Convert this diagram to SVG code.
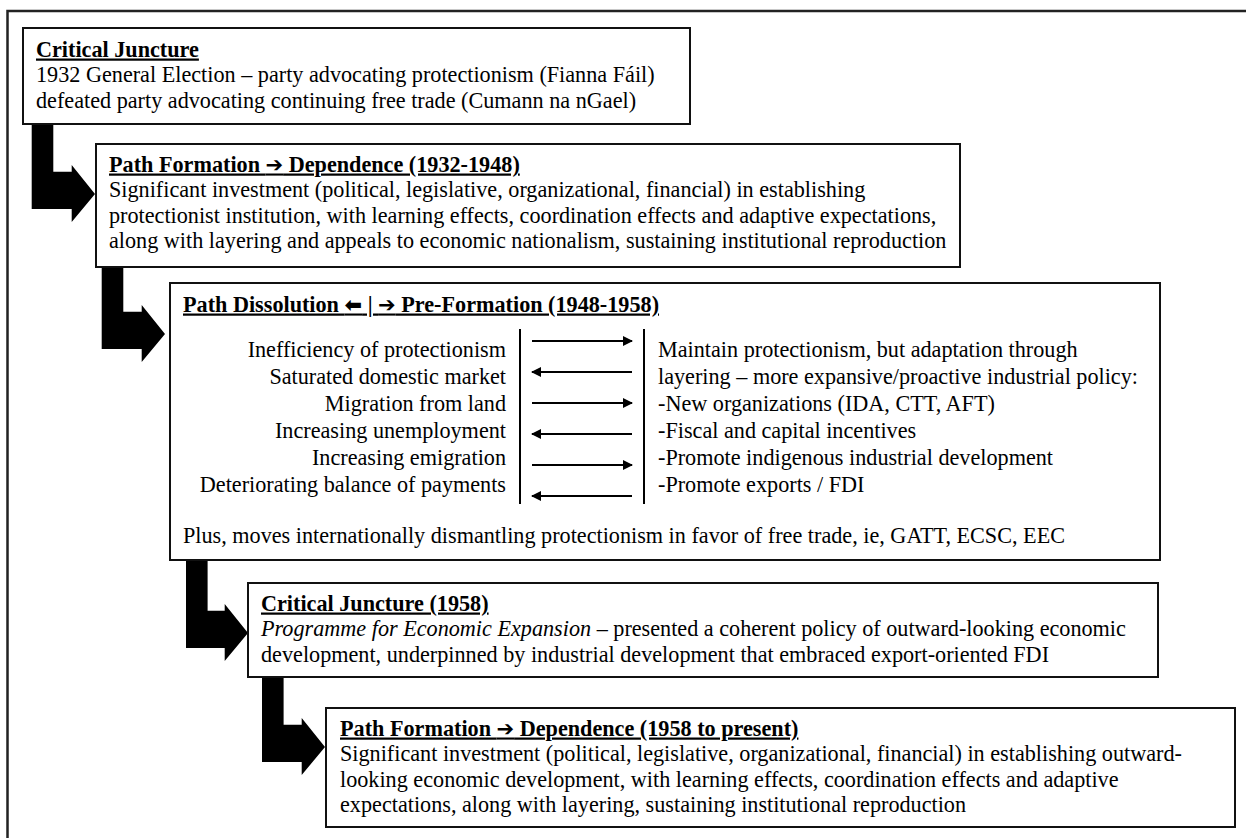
<svg xmlns="http://www.w3.org/2000/svg" width="1246" height="838" viewBox="0 0 1246 838">
<style>
.box{fill:#fff;stroke:#111;stroke-width:2}
.t{font-family:"Liberation Serif","Times New Roman",serif;font-size:22.2px;fill:#000}
.b{font-weight:bold;text-decoration:underline}
.sym{font-family:"DejaVu Sans",sans-serif;font-size:21px;font-weight:bold}
.r{text-anchor:end}
.ln{stroke:#000;stroke-width:2;fill:none}
.bent{fill:#000}
</style>
<defs>
<marker id="ah" viewBox="0 0 10 10" refX="9" refY="5" markerWidth="5" markerHeight="5" orient="auto-start-reverse" markerUnits="strokeWidth">
<path d="M0,0 L10,5 L0,10 Z" fill="#000"/>
</marker>
</defs>
<rect width="1246" height="838" fill="#fff"/>
<path d="M7.5,838 V11 H1246" fill="none" stroke="#222" stroke-width="2.5"/>

<g id="connectors">
<path class="bent" d="M31.7,124 H53.3 V171.7 H71.7 V165 L95,194 L71.7,222 V209 H31.7 Z"/>
<path class="bent" d="M101.7,267 H123.3 V311.7 H141.7 V305 L165,334 L141.7,362 V349 H101.7 Z"/>
<path class="bent" d="M186,560 H207.6 V610.7 H224.7 V604 L248,633 L224.7,661 V648 H186 Z"/>
<path class="bent" d="M262,677 H283.6 V724.7 H301.7 V718 L325,747 L301.7,775 V762 H262 Z"/>
</g>

<g id="box1">
<rect class="box" x="23" y="28" width="667" height="96"/>
<text class="t b" x="36" y="56.5">Critical Juncture</text>
<text class="t" x="36" y="82">1932 General Election – party advocating protectionism (Fianna Fáil)</text>
<text class="t" x="36" y="107.5">defeated party advocating continuing free trade (Cumann na nGael)</text>
</g>

<g id="box2">
<rect class="box" x="96" y="144" width="864" height="123"/>
<text class="t b" x="109" y="171.5">Path Formation <tspan class="sym">➔</tspan> Dependence (1932-1948)</text>
<text class="t" x="109" y="197">Significant investment (political, legislative, organizational, financial) in establishing</text>
<text class="t" x="109" y="222.5">protectionist institution, with learning effects, coordination effects and adaptive expectations,</text>
<text class="t" x="109" y="248">along with layering and appeals to economic nationalism, sustaining institutional reproduction</text>
</g>

<g id="box3">
<rect class="box" x="170" y="283" width="990" height="277"/>
<text class="t b" x="183" y="311.5">Path Dissolution <tspan class="sym">⬅</tspan> | <tspan class="sym">➔</tspan> Pre-Formation (1948-1958)</text>
<text class="t r" x="506" y="356.5">Inefficiency of protectionism</text>
<text class="t r" x="506" y="383.5">Saturated domestic market</text>
<text class="t r" x="506" y="410.5">Migration from land</text>
<text class="t r" x="506" y="437.5">Increasing unemployment</text>
<text class="t r" x="506" y="464.5">Increasing emigration</text>
<text class="t r" x="506" y="491.5">Deteriorating balance of payments</text>
<line class="ln" x1="520" y1="329" x2="520" y2="504"/>
<line class="ln" x1="644" y1="329" x2="644" y2="504"/>
<line class="ln" x1="532" y1="341" x2="632" y2="341" marker-end="url(#ah)"/>
<line class="ln" x1="632" y1="372" x2="532" y2="372" marker-end="url(#ah)"/>
<line class="ln" x1="532" y1="403" x2="632" y2="403" marker-end="url(#ah)"/>
<line class="ln" x1="632" y1="434" x2="532" y2="434" marker-end="url(#ah)"/>
<line class="ln" x1="532" y1="465" x2="632" y2="465" marker-end="url(#ah)"/>
<line class="ln" x1="632" y1="496" x2="532" y2="496" marker-end="url(#ah)"/>
<text class="t" x="658" y="356.5">Maintain protectionism, but adaptation through</text>
<text class="t" x="658" y="383.5">layering – more expansive/proactive industrial policy:</text>
<text class="t" x="658" y="410.5">-New organizations (IDA, CTT, AFT)</text>
<text class="t" x="658" y="437.5">-Fiscal and capital incentives</text>
<text class="t" x="658" y="464.5">-Promote indigenous industrial development</text>
<text class="t" x="658" y="491.5">-Promote exports / FDI</text>
<text class="t" x="183" y="543">Plus, moves internationally dismantling protectionism in favor of free trade, ie, GATT, ECSC, EEC</text>
</g>

<g id="box4">
<rect class="box" x="248" y="583" width="910" height="94"/>
<text class="t b" x="261" y="610.5">Critical Juncture (1958)</text>
<text class="t" x="261" y="636"><tspan font-style="italic">Programme for Economic Expansion</tspan> – presented a coherent policy of outward-looking economic</text>
<text class="t" x="261" y="661.5">development, underpinned by industrial development that embraced export-oriented FDI</text>
</g>

<g id="box5">
<rect class="box" x="326" y="708" width="909" height="119"/>
<text class="t b" x="340" y="735.5">Path Formation <tspan class="sym">➔</tspan> Dependence (1958 to present)</text>
<text class="t" x="340" y="761">Significant investment (political, legislative, organizational, financial) in establishing outward-</text>
<text class="t" x="340" y="786.5">looking economic development, with learning effects, coordination effects and adaptive</text>
<text class="t" x="340" y="812">expectations, along with layering, sustaining institutional reproduction</text>
</g>
</svg>
